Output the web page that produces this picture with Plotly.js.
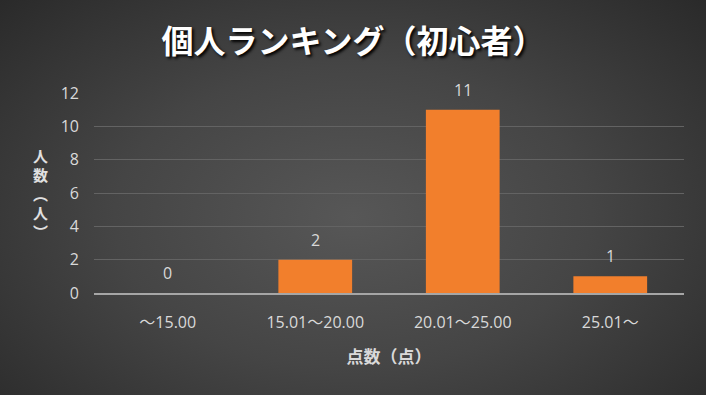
<!DOCTYPE html>
<html>
<head>
<meta charset="utf-8">
<script src="https://cdn.plot.ly/plotly-3.0.1.min.js"></script>
<style>
html,body{margin:0;padding:0;}
#chart{width:706px;height:395px;background:radial-gradient(ellipse 75% 85% at 50% 55%, #575757 0%, #454545 45%, #262626 100%);}
</style>
</head>
<body>
<div id="chart"></div>
<script>
const categories = ["～15.00", "15.01～20.00", "20.01～25.00", "25.01～"];
const counts = [0, 2, 11, 1];
const yTicks = [0, 2, 4, 6, 8, 10, 12];
const titleText = "個人ランキング（初心者）";
const xTitle = "点数（点）";
const yTitleChars = ["人", "数", "︵", "人", "︶"];

const fontFam = "Open Sans, Noto Sans CJK JP, sans-serif";
const labelColor = "#d9d9d9";

const trace = {
  type: "bar",
  x: categories,
  y: counts,
  marker: {color: "#f27f2c", line: {width: 0}},
  hoverinfo: "none"
};

const annotations = categories.map((c, i) => ({
  x: c, y: counts[i], text: String(counts[i]),
  showarrow: false, yshift: 20,
  font: {family: fontFam, size: 16, color: labelColor}
}));
// vertical stacked y-axis title, one glyph per annotation
yTitleChars.forEach((ch, i) => {
  annotations.push({
    xref: "paper", yref: "paper", x: -0.09, y: 0.69, xanchor: "center", yanchor: "middle",
    yshift: -19 * i,
    text: ch, showarrow: false,
    font: {family: "Noto Sans CJK JP", size: 15, color: "#e0e0e0", weight: "bold"}
  });
});

const layout = {
  width: 706, height: 395,
  paper_bgcolor: "rgba(0,0,0,0)",
  plot_bgcolor: "rgba(0,0,0,0)",
  margin: {l: 94, r: 22, t: 93, b: 102},
  bargap: 0.5,
  showlegend: false,
  title: {
    text: titleText, x: 0.5, xanchor: "center", y: 0.895, yanchor: "middle",
    font: {family: "Noto Sans CJK JP", size: 32, color: "#ffffff", weight: "bold", shadow: "2px 2px 3px #000000"}
  },
  xaxis: {
    type: "category",
    tickfont: {family: fontFam, size: 16, color: labelColor},
    ticks: "", ticklabelstandoff: 14, showgrid: false, showline: true, linecolor: "#a6a6a6", linewidth: 2,
    title: {text: xTitle, standoff: 19, font: {family: "Noto Sans CJK JP", size: 17, color: labelColor, weight: "bold"}}
  },
  yaxis: {
    range: [0, 12], tickvals: yTicks, ticktext: yTicks.map(String),
    tickfont: {family: fontFam, size: 16, color: labelColor},
    ticks: "", ticklabelstandoff: 14,
    showgrid: true, gridcolor: "#636363", gridwidth: 1,
    zeroline: false, showline: false
  },
  annotations: annotations
};

Plotly.newPlot("chart", [trace], layout, {displayModeBar: false, staticPlot: true});
</script>
</body>
</html>
